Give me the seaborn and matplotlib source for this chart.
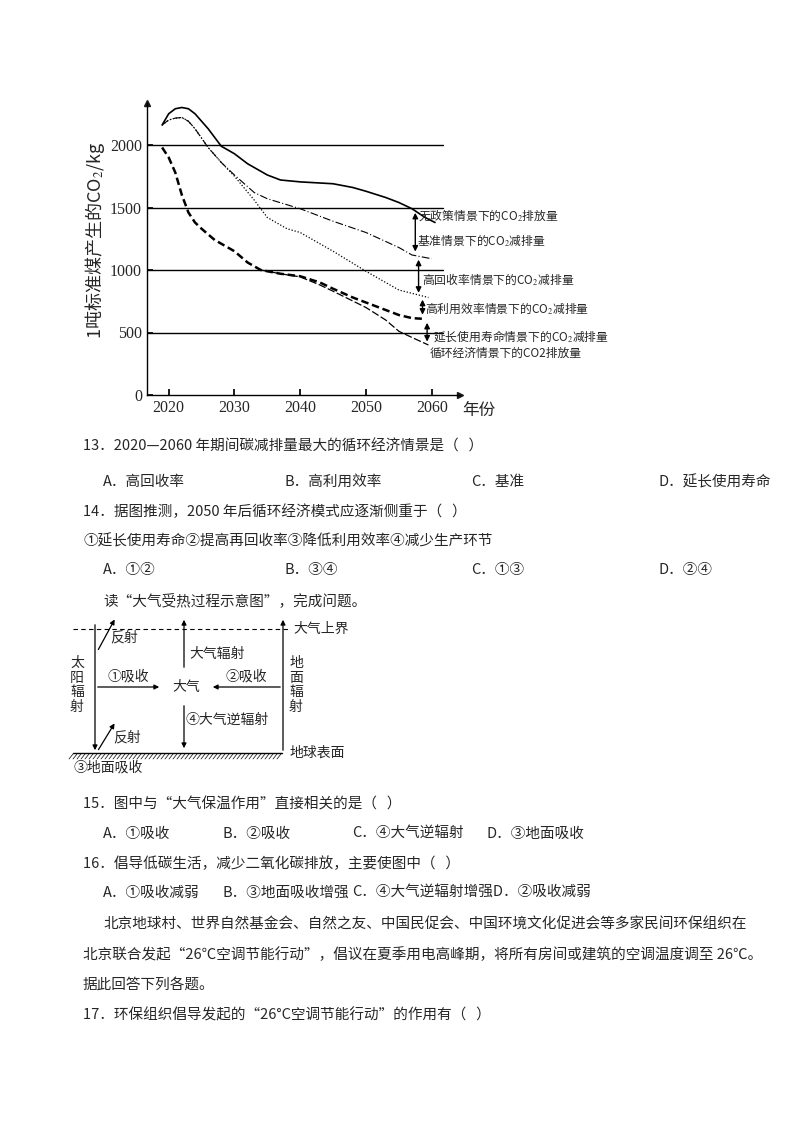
import numpy as np
import pandas as pd
import seaborn as sns
import matplotlib.pyplot as plt
from matplotlib.patches import FancyArrowPatch

sns.set_theme(style="white")
plt.rcParams["font.family"] = ["Noto Sans CJK SC", "DejaVu Sans"]
plt.rcParams["mathtext.fontset"] = "stix"

# ---------------------------
# Data
# ---------------------------
years_nopolicy = [2019, 2020, 2021, 2022, 2023, 2024, 2025, 2026, 2027, 2028, 2030, 2032, 2035, 2037, 2040, 2045, 2048, 2050, 2053, 2055, 2057, 2059, 2060.5]
vals_nopolicy = [2160, 2250, 2290, 2300, 2290, 2250, 2190, 2130, 2060, 1990, 1930, 1850, 1760, 1720, 1705, 1690, 1660, 1630, 1580, 1540, 1490, 1420, 1380]

years_base = [2019, 2020, 2021, 2022, 2023, 2024, 2026, 2028, 2030, 2033, 2035, 2040, 2045, 2050, 2055, 2057, 2060]
vals_base = [2160, 2200, 2215, 2220, 2190, 2130, 1980, 1860, 1760, 1620, 1570, 1490, 1390, 1300, 1180, 1120, 1090]

years_recycle = [2019, 2020, 2021, 2022, 2023, 2024, 2026, 2028, 2030, 2033, 2035, 2038, 2040, 2045, 2050, 2053, 2055, 2058, 2059.5]
vals_recycle = [2160, 2200, 2215, 2220, 2190, 2130, 1980, 1860, 1750, 1560, 1420, 1330, 1300, 1150, 990, 900, 840, 800, 780]

years_eff = [2019, 2020, 2021, 2022, 2023, 2024, 2025, 2027, 2030, 2032, 2034, 2037, 2040, 2043, 2045, 2048, 2050, 2053, 2055, 2057, 2058.5]
vals_eff = [1980, 1900, 1780, 1600, 1460, 1380, 1330, 1240, 1150, 1060, 1000, 970, 950, 900, 850, 780, 740, 680, 640, 615, 610]

years_life = [2034, 2037, 2040, 2043, 2045, 2050, 2053, 2055, 2057, 2059.5]
vals_life = [1000, 970, 945, 880, 830, 700, 600, 510, 460, 400]

y_ticks = [0, 500, 1000, 1500, 2000]
x_ticks = [2020, 2030, 2040, 2050, 2060]

# reduction arrows: (x, y_top, y_bottom)
arrow_x = [2057.5, 2058.0, 2058.6, 2059.3]
arrow_top = [1480, 1105, 785, 600]
arrow_bottom = [1125, 795, 620, 405]

labels = ["无政策情景下的CO$_2$排放量", "基准情景下的CO$_2$减排量", "高回收率情景下的CO$_2$减排量",
          "高利用效率情景下的CO$_2$减排量", "延长使用寿命情景下的CO$_2$减排量", "循环经济情景下的CO2排放量"]
label_x = [418, 417, 422, 425, 433, 430]
label_y = [215, 240, 279, 308, 336, 353]

# ---------------------------
# Figure
# ---------------------------
fig = plt.figure(figsize=(8, 11.32), dpi=100)
W, H = 800, 1132
ax = fig.add_axes([147 / W, 1 - 395 / H, (460 - 147) / W, (395 - 103) / H])
ax.set_xlim(2016.7, 2064.3)
ax.set_ylim(0, 2336)

for v in [500, 1000, 1500, 2000]:
    ax.plot([2016.7, 2061.7], [v, v], color="black", lw=1.0)

series = [
    (years_nopolicy, vals_nopolicy, "-", 1.2),
    (years_base, vals_base, (0, (7, 2, 1, 2)), 0.8),
    (years_recycle, vals_recycle, (0, (1, 1.5)), 0.9),
    (years_eff, vals_eff, (0, (3, 1.5)), 1.8),
    (years_life, vals_life, (0, (6, 2)), 0.9),
]
for xs, ys, ls, lw in series:
    df = pd.DataFrame({"year": xs, "val": ys})
    sns.lineplot(data=df, x="year", y="val", ax=ax, color="black", linestyle=ls, lw=lw)

for x, t, b in zip(arrow_x, arrow_top, arrow_bottom):
    ax.annotate("", xy=(x, t), xytext=(x, b),
                arrowprops=dict(arrowstyle="<|-|>", color="black", lw=1.0, mutation_scale=8))

for s in ["top", "right"]:
    ax.spines[s].set_visible(False)
for s in ["left", "bottom"]:
    ax.spines[s].set_color("black")
    ax.spines[s].set_linewidth(1.0)
ax.plot(1, 0, ">k", transform=ax.transAxes, clip_on=False, ms=5)
ax.plot(0, 1, "^k", transform=ax.transAxes, clip_on=False, ms=5)
ax.set_xticks(x_ticks)
ax.set_yticks(y_ticks)
ax.tick_params(direction="in", length=4, color="black", labelsize=11.5, bottom=True, left=True)
for lab in ax.get_xticklabels() + ax.get_yticklabels():
    lab.set_fontfamily("Liberation Serif")
ax.set_xlabel("")
ax.set_ylabel("")

# ---------------------------
# Page overlay (pixel coordinates)
# ---------------------------
ov = fig.add_axes([0, 0, 1, 1])
ov.set_xlim(0, W)
ov.set_ylim(H, 0)
ov.axis("off")

ov.text(95, 240, "1吨标准煤产生的CO$_2$/kg", rotation=90, ha="center", va="center", fontsize=13)
ov.text(462, 410, "年份", ha="left", va="center", fontsize=12)
for t, x, y in zip(labels, label_x, label_y):
    ov.text(x, y, t, ha="left", va="center", fontsize=8.5)

fs = 10.5
lines = [
    (83, 447, "13．2020—2060 年期间碳减排量最大的循环经济情景是（   ）"),
    (83, 512, "14．据图推测，2050 年后循环经济模式应逐渐侧重于（   ）"),
    (83, 541, "①延长使用寿命②提高再回收率③降低利用效率④减少生产环节"),
    (103, 601, "读“大气受热过程示意图”，完成问题。"),
    (83, 804, "15．图中与“大气保温作用”直接相关的是（   ）"),
    (83, 864, "16．倡导低碳生活，减少二氧化碳排放，主要使图中（   ）"),
    (103, 925, "北京地球村、世界自然基金会、自然之友、中国民促会、中国环境文化促进会等多家民间环保组织在"),
    (83, 955, "北京联合发起“26℃空调节能行动”，倡议在夏季用电高峰期，将所有房间或建筑的空调温度调至 26℃。"),
    (83, 985, "据此回答下列各题。"),
    (83, 1015, "17．环保组织倡导发起的“26°C空调节能行动”的作用有（   ）"),
]
for x, y, t in lines:
    ov.text(x, y, t, ha="left", va="center", fontsize=fs)

options = [
    (482, [103, 285, 471, 658], ["A．高回收率", "B．高利用效率", "C．基准", "D．延长使用寿命"]),
    (570, [103, 285, 471, 658], ["A．①②", "B．③④", "C．①③", "D．②④"]),
    (834, [103, 222, 352, 487], ["A．①吸收", "B．②吸收", "C．④大气逆辐射", "D．③地面吸收"]),
    (893, [103, 222, 352], ["A．①吸收减弱", "B．③地面吸收增强", "C．④大气逆辐射增强D．②吸收减弱"]),
]
for y, xs, ts in options:
    for x, t in zip(xs, ts):
        ov.text(x, y, t, ha="left", va="center", fontsize=fs)

# ---------------------------
# Atmosphere heating diagram
# ---------------------------
def arrow(x0, y0, x1, y1):
    ov.add_patch(FancyArrowPatch((x0, y0), (x1, y1), arrowstyle="-|>",
                                 mutation_scale=7, color="black", lw=0.9))

ov.plot([73, 290], [629, 629], color="black", lw=0.8, ls=(0, (4, 3)))
ov.plot([73, 282], [753, 753], color="black", lw=1.0)
for hx in np.arange(73, 282, 4):
    ov.plot([hx, hx - 4], [754, 759], color="black", lw=0.5)

arrow(95, 622, 95, 753)
arrow(97, 652, 116, 617)
arrow(97, 752, 116, 721)
arrow(95, 687, 162, 687)
arrow(283, 687, 210, 687)
arrow(283, 753, 283, 617)
arrow(184, 670, 184, 617)
arrow(184, 703, 184, 751)

dfs = 10
ov.text(293, 629, "大气上界", ha="left", va="center", fontsize=dfs)
ov.text(290, 753, "地球表面", ha="left", va="center", fontsize=dfs)
ov.text(110, 637, "反射", ha="left", va="center", fontsize=dfs)
ov.text(113, 737, "反射", ha="left", va="center", fontsize=dfs)
ov.text(77, 685, "太\n阳\n辐\n射", ha="center", va="center", fontsize=dfs, linespacing=1.05)
ov.text(296, 685, "地\n面\n辐\n射", ha="center", va="center", fontsize=dfs, linespacing=1.05)
ov.text(108, 677, "①吸收", ha="left", va="center", fontsize=dfs)
ov.text(225, 677, "②吸收", ha="left", va="center", fontsize=dfs)
ov.text(186, 687, "大气", ha="center", va="center", fontsize=dfs)
ov.text(189, 654, "大气辐射", ha="left", va="center", fontsize=dfs)
ov.text(186, 720, "④大气逆辐射", ha="left", va="center", fontsize=dfs)
ov.text(74, 768, "③地面吸收", ha="left", va="center", fontsize=dfs)

fig.savefig("out.png", dpi=100, facecolor="white")
